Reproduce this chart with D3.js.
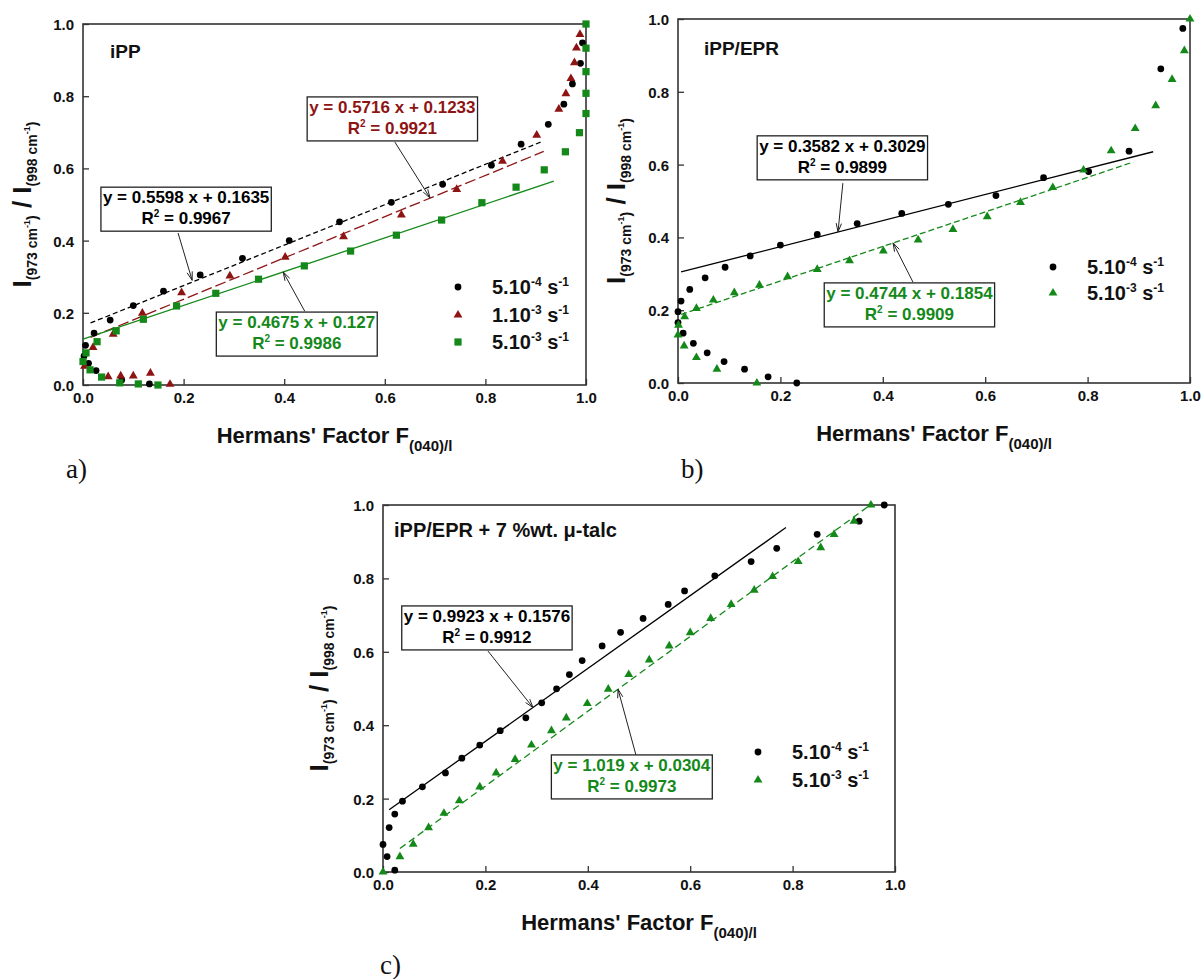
<!DOCTYPE html>
<html>
<head>
<meta charset="utf-8">
<script src="https://cdn.jsdelivr.net/npm/d3@7"></script>
<style>
  body { margin: 0; background: #fff; }
  svg { display: block; }
  text { font-family: "Liberation Sans", Arial, sans-serif; font-weight: bold; }
</style>
</head>
<body>
<svg id="chart" width="1204" height="979"></svg>
<script>
// ---------- axis ticks ----------
const tickValues = [0, 0.2, 0.4, 0.6, 0.8, 1.0];
const tickLabels = ["0.0", "0.2", "0.4", "0.6", "0.8", "1.0"];

// ---------- a) iPP : [Hermans factor, I973/I998] ----------
const iPP_5e4 = [
  [0.002,0.080],[0.011,0.060],[0.026,0.040],[0.077,0.014],[0.132,0.003],
  [0.005,0.110],[0.022,0.144],[0.054,0.180],[0.100,0.220],[0.160,0.260],[0.233,0.305],
  [0.317,0.351],[0.410,0.400],[0.510,0.452],[0.613,0.506],[0.715,0.556],[0.812,0.609],
  [0.871,0.667],[0.925,0.722],[0.956,0.778],[0.973,0.834],[0.989,0.891],[0.993,0.948]
];
const iPP_1e3 = [
  [0.003,0.052],[0.050,0.023],[0.075,0.025],[0.100,0.025],[0.134,0.033],[0.173,0.002],
  [0.020,0.104],[0.060,0.141],[0.118,0.199],[0.196,0.256],[0.292,0.302],[0.402,0.354],
  [0.518,0.411],[0.633,0.471],[0.743,0.542],[0.834,0.620],[0.902,0.692],[0.946,0.764],
  [0.960,0.807],[0.970,0.849],[0.977,0.893],[0.981,0.934],[0.988,0.971]
];
const iPP_5e3 = [
  [0.000,0.065],[0.014,0.042],[0.037,0.022],[0.073,0.006],[0.110,0.003],[0.149,0.000],
  [0.006,0.089],[0.028,0.120],[0.066,0.150],[0.120,0.182],[0.186,0.219],[0.264,0.254],
  [0.349,0.293],[0.440,0.330],[0.532,0.371],[0.623,0.415],[0.713,0.457],[0.793,0.505],
  [0.861,0.548],[0.917,0.596],[0.959,0.646],[0.987,0.699],[1.000,0.752],[1.000,0.808],
  [1.000,0.868],[1.000,0.933],[1.000,1.000]
];

// ---------- b) iPP/EPR ----------
const blend_5e4 = [
  [0.000,0.196],[0.000,0.166],[0.006,0.225],[0.010,0.137],[0.023,0.257],[0.030,0.109],
  [0.053,0.289],[0.057,0.083],[0.092,0.318],[0.090,0.059],[0.141,0.349],[0.130,0.038],
  [0.200,0.379],[0.176,0.017],[0.232,0.000],[0.272,0.408],[0.350,0.438],[0.437,0.466],
  [0.528,0.491],[0.621,0.515],[0.714,0.564],[0.802,0.581],[0.881,0.637],[0.943,0.863],
  [0.986,0.974]
];
const blend_5e3 = [
  [0.000,0.132],[0.001,0.159],[0.012,0.102],[0.013,0.182],[0.036,0.070],[0.036,0.205],
  [0.076,0.038],[0.069,0.228],[0.154,0.000],[0.110,0.248],[0.159,0.269],[0.214,0.292],
  [0.272,0.312],[0.335,0.336],[0.401,0.363],[0.469,0.393],[0.537,0.422],[0.604,0.457],
  [0.669,0.496],[0.732,0.537],[0.792,0.585],[0.846,0.638],[0.893,0.699],[0.933,0.762],
  [0.965,0.834],[0.989,0.913],[1.000,1.000]
];

// ---------- c) iPP/EPR + 7 %wt. talc ----------
const talc_5e4 = [
  [0.000,0.075],[0.008,0.042],[0.023,0.005],[0.012,0.121],[0.023,0.158],[0.038,0.193],
  [0.077,0.232],[0.122,0.270],[0.154,0.310],[0.189,0.346],[0.229,0.385],[0.279,0.420],
  [0.310,0.461],[0.339,0.499],[0.364,0.538],[0.389,0.576],[0.428,0.616],[0.464,0.653],
  [0.508,0.691],[0.557,0.729],[0.589,0.766],[0.648,0.807],[0.719,0.846],[0.769,0.882],
  [0.848,0.920],[0.930,0.956],[0.979,1.000]
];
const talc_5e3 = [
  [0.000,0.000],[0.033,0.042],[0.059,0.076],[0.089,0.121],[0.119,0.160],[0.149,0.194],
  [0.189,0.232],[0.221,0.270],[0.258,0.307],[0.290,0.346],[0.329,0.385],[0.358,0.420],
  [0.399,0.459],[0.440,0.498],[0.480,0.538],[0.520,0.578],[0.559,0.616],[0.600,0.652],
  [0.640,0.691],[0.680,0.729],[0.725,0.768],[0.761,0.805],[0.811,0.846],[0.855,0.884],
  [0.881,0.920],[0.920,0.956],[0.953,1.000]
];

// ---------- linear fits: slope, intercept, R², x-range of drawn line ----------
const fitSlopes     = { a: [0.5598, 0.5716, 0.4675], b: [0.3582, 0.4744], c: [0.9923, 1.019] };
const fitIntercepts = { a: [0.1635, 0.1233, 0.127],  b: [0.3029, 0.1854], c: [0.1576, 0.0304] };
const fitR2         = { a: ["0.9967", "0.9921", "0.9986"], b: ["0.9899", "0.9909"], c: ["0.9912", "0.9973"] };
const fitRanges     = { a: [[0.015,0.912],[0.015,0.916],[0.0,0.936]], b: [[0.006,0.928],[0.006,0.889]], c: [[0.012,0.787],[0.033,0.954]] };

// ---------- legend labels: [mantissa, exponent] ----------
const rateLabels = { a: [["5.10","-4"],["1.10","-3"],["5.10","-3"]], b: [["5.10","-4"],["5.10","-3"]], c: [["5.10","-4"],["5.10","-3"]] };
const panelTitles = { a: "iPP", b: "iPP/EPR", c: "iPP/EPR + 7 %wt. \u03bc-talc" };

// ---------- styling / layout ----------
const BLACK = "#000000", RED = "#8e1414", GREEN = "#14891a";
const FRAME = "#333333";

const layout = {
  a: { l: 83, t: 24, r: 586, b: 385, yTitleX: 31, tag: "a)", tagX: 66, tagY: 478,
       titleDX: 27, titleDY: 34, legendRows: [263, 291, 318],
       // equation boxes (data coords): centre x, top y ; arrow from -> to
       boxes: [ { cx: 0.205, top: 0.548, from: [0.189, 0.421], to: [0.217, 0.290] },
                { cx: 0.615, top: 0.798, from: [0.620, 0.673], to: [0.690, 0.518] },
                { cx: 0.425, top: 0.202, from: [0.441, 0.204], to: [0.398, 0.313] } ] },
  b: { l: 678, t: 19, r: 1190, b: 383, yTitleX: 625, tag: "b)", tagX: 681, tagY: 478,
       titleDX: 26, titleDY: 36, legendRows: [248, 274],
       boxes: [ { cx: 0.321, top: 0.679, from: [0.322, 0.549], to: [0.3125, 0.415] },
                { cx: 0.452, top: 0.275, from: [0.459, 0.277], to: [0.420, 0.385] } ] },
  c: { l: 383, t: 505, r: 895, b: 872, yTitleX: 328, tag: "c)", tagX: 380, tagY: 974,
       titleDX: 11, titleDY: 32, legendRows: [247, 275],
       boxes: [ { cx: 0.203, top: 0.725, from: [0.205, 0.602], to: [0.293, 0.448] },
                { cx: 0.486, top: 0.319, from: [0.494, 0.319], to: [0.459, 0.498] } ] }
};

// series per panel: data, marker, colour, line dash
const seriesDefs = {
  a: [ { data: iPP_5e4, marker: "circle",   color: BLACK, dash: "5,3" },
       { data: iPP_1e3, marker: "triangle", color: RED,   dash: "11,4" },
       { data: iPP_5e3, marker: "square",   color: GREEN, dash: null } ],
  b: [ { data: blend_5e4, marker: "circle",   color: BLACK, dash: null },
       { data: blend_5e3, marker: "triangle", color: GREEN, dash: "6,3" } ],
  c: [ { data: talc_5e4, marker: "circle",   color: BLACK, dash: null },
       { data: talc_5e3, marker: "triangle", color: GREEN, dash: "7,4" } ]
};

const svg = d3.select("#chart");
svg.append("rect").attr("width", 1204).attr("height", 979).attr("fill", "#fff");

const symbolPath = {
  circle:   d3.symbol(d3.symbolCircle, 36)(),
  triangle: d3.symbol(d3.symbolTriangle, 34)(),
  square:   d3.symbol(d3.symbolSquare, 52)()
};

function drawMarker(sel, type, color) {
  return sel.append("path").attr("d", symbolPath[type]).attr("fill", color);
}

function drawPanel(key) {
  const L = layout[key];
  const x = d3.scaleLinear().domain([0, 1]).range([L.l, L.r]);
  const y = d3.scaleLinear().domain([0, 1]).range([L.b, L.t]);
  const g = svg.append("g");

  // axes, ticks pointing inwards
  const gx = g.append("g").attr("transform", `translate(0,${L.b})`)
    .call(d3.axisBottom(x).tickValues(tickValues).tickFormat((d, i) => tickLabels[i])
      .tickSizeInner(-6).tickSizeOuter(0).tickPadding(7));
  const gy = g.append("g").attr("transform", `translate(${L.l},0)`)
    .call(d3.axisLeft(y).tickValues(tickValues).tickFormat((d, i) => tickLabels[i])
      .tickSizeInner(-6).tickSizeOuter(0).tickPadding(9));
  [gx, gy].forEach(a => {
    a.select(".domain").remove();
    a.selectAll(".tick line").attr("stroke", FRAME).attr("stroke-width", 1.3);
    a.selectAll(".tick text").attr("fill", "#111").style("font-size", "15px")
      .style("font-family", "'Liberation Sans', Arial, sans-serif").style("font-weight", "bold");
  });
  gy.selectAll(".tick text").attr("dy", "0.36em");

  // plot frame
  g.append("rect").attr("x", L.l).attr("y", L.t).attr("width", L.r - L.l).attr("height", L.b - L.t)
    .attr("fill", "none").attr("stroke", FRAME).attr("stroke-width", 1.6);

  // fitted lines
  const defs = seriesDefs[key];
  defs.forEach((s, i) => {
    const m = fitSlopes[key][i], c0 = fitIntercepts[key][i], [x0, x1] = fitRanges[key][i];
    g.append("line")
      .attr("x1", x(x0)).attr("y1", y(m * x0 + c0))
      .attr("x2", x(x1)).attr("y2", y(m * x1 + c0))
      .attr("stroke", s.color).attr("stroke-width", 1.3)
      .attr("stroke-dasharray", s.dash);
  });

  // data points
  defs.forEach(s => {
    g.append("g").selectAll("path").data(s.data).join("path")
      .attr("d", symbolPath[s.marker])
      .attr("transform", d => `translate(${x(d[0])},${y(d[1])})`)
      .attr("fill", s.color);
  });

  // equation boxes with arrows
  L.boxes.forEach((bx, i) => {
    const col = defs[i].color;
    const bg = g.append("g");
    const cx = x(bx.cx), top = y(bx.top);
    const t1 = bg.append("text").attr("x", cx).attr("y", top + 16).attr("text-anchor", "middle")
      .attr("fill", col).style("font-size", "17px")
      .text(`y = ${fitSlopes[key][i]} x + ${fitIntercepts[key][i]}`);
    const t2 = bg.append("text").attr("x", cx).attr("y", top + 37).attr("text-anchor", "middle")
      .attr("fill", col).style("font-size", "17px");
    t2.append("tspan").text("R");
    t2.append("tspan").attr("dy", -7).style("font-size", "10px").text("2");
    t2.append("tspan").attr("dy", 7).text(` = ${fitR2[key][i]}`);
    const w = Math.max(t1.node().getComputedTextLength(), t2.node().getComputedTextLength()) + 4;
    bg.insert("rect", "text").attr("x", cx - w / 2).attr("y", top).attr("width", w).attr("height", 44)
      .attr("fill", "#fff").attr("stroke", "#222").attr("stroke-width", 1.3);

    // arrow with open head
    const fx = x(bx.from[0]), fy = y(bx.from[1]), tx = x(bx.to[0]), ty = y(bx.to[1]);
    const ang = Math.atan2(ty - fy, tx - fx), hl = 9, ha = 0.3;
    g.append("line").attr("x1", fx).attr("y1", fy).attr("x2", tx).attr("y2", ty)
      .attr("stroke", "#222").attr("stroke-width", 1);
    g.append("path")
      .attr("d", `M${tx - hl * Math.cos(ang - ha)},${ty - hl * Math.sin(ang - ha)}L${tx},${ty}L${tx - hl * Math.cos(ang + ha)},${ty - hl * Math.sin(ang + ha)}`)
      .attr("fill", "none").attr("stroke", "#222").attr("stroke-width", 1);
  });

  // panel title
  g.append("text").attr("x", L.l + L.titleDX).attr("y", L.t + L.titleDY)
    .style("font-size", key === "c" ? "20px" : "19px").attr("fill", "#111").text(panelTitles[key]);

  // legend
  rateLabels[key].forEach((lab, i) => {
    const ry = L.t + L.legendRows[i];
    const sx = L.l + 375;
    g.append("path").attr("d", symbolPath[defs[i].marker])
      .attr("transform", `translate(${sx},${ry})`).attr("fill", defs[i].color);
    const t = g.append("text").attr("x", L.l + 409).attr("y", ry + 7).attr("fill", "#111")
      .style("font-size", "20px");
    t.append("tspan").text(lab[0]);
    t.append("tspan").attr("dy", -8).style("font-size", "12px").text(lab[1]);
    t.append("tspan").attr("dy", 8).text(" s");
    t.append("tspan").attr("dy", -8).style("font-size", "12px").text("-1");
  });

  // x axis title
  const xt = g.append("text").attr("x", (L.l + L.r) / 2).attr("y", L.b + 58)
    .attr("text-anchor", "middle").attr("fill", "#111").style("font-size", "22px");
  xt.append("tspan").text("Hermans' Factor F");
  xt.append("tspan").attr("dy", 8).style("font-size", "15px").text("(040)/l");

  // y axis title
  const yt = g.append("text")
    .attr("transform", `translate(${L.yTitleX},${(L.t + L.b) / 2}) rotate(-90)`)
    .attr("text-anchor", "middle").attr("fill", "#111").style("font-size", "26px");
  const addI = (label, first) => {
    yt.append("tspan").attr("dy", first ? 0 : -6).style("font-size", first ? "26px" : "26px").text(first ? "I" : " / I");
    yt.append("tspan").attr("dy", 6).style("font-size", "14px").text(label);
    yt.append("tspan").attr("dy", -7).style("font-size", "9px").text("-1");
    yt.append("tspan").attr("dy", 7).style("font-size", "14px").text(")");
  };
  addI("(973 cm", true);
  addI("(998 cm", false);

  // panel tag
  svg.append("text").attr("x", L.tagX).attr("y", L.tagY)
    .style("font-family", "'Liberation Serif', 'Times New Roman', serif").style("font-weight", "normal")
    .style("font-size", "27px").attr("fill", "#111").text(L.tag);
}

["a", "b", "c"].forEach(drawPanel);
</script>
</body>
</html>
